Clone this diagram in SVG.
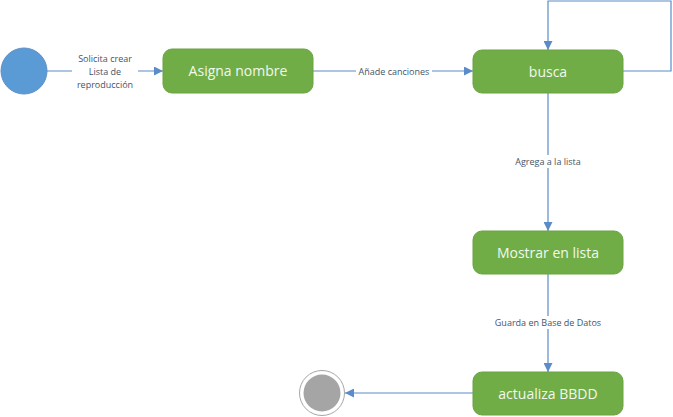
<svg xmlns="http://www.w3.org/2000/svg" width="673" height="417" viewBox="0 0 673 417">
<style>
.node{fill:#70AD47;stroke:#6AA343;stroke-width:1}
.nt{font-family:"Open Sans","Noto Sans",sans-serif;font-size:14px;fill:#F2F8EE;text-anchor:middle}
.edge{fill:none;stroke:#5B8BC8;stroke-width:1.2}
.lbl{font-family:"Open Sans","Noto Sans",sans-serif;font-size:9px;fill:#44546A;text-anchor:middle}
.bg{fill:#FFFFFF}
</style>
<defs>
<marker id="arr" viewBox="0 0 10 10" refX="10" refY="5" markerWidth="9" markerHeight="9" markerUnits="userSpaceOnUse" orient="auto">
<path d="M0,0 L10,5 L0,10 z" fill="#5B8BC8"/>
</marker>
</defs>
<rect width="673" height="417" fill="#FFFFFF"/>
<g id="connectors">
<path class="edge" d="M47,71 H163" marker-end="url(#arr)"/>
<rect class="bg" x="72" y="51" width="66" height="40"/>
<text class="lbl" x="105" y="62">Solicita crear</text>
<text class="lbl" x="105" y="75">Lista de</text>
<text class="lbl" x="105" y="88">reproducción</text>
<path class="edge" d="M313,71 H473" marker-end="url(#arr)"/>
<rect class="bg" x="356" y="65" width="76" height="12"/>
<text class="lbl" x="394" y="74.5">Añade canciones</text>
<path class="edge" d="M623,71 H671 V1 H548 V50" marker-end="url(#arr)"/>
<path class="edge" d="M548,93 V231" marker-end="url(#arr)"/>
<rect class="bg" x="510" y="155" width="76" height="13"/>
<text class="lbl" x="548" y="165">Agrega a la lista</text>
<path class="edge" d="M548,273 V372" marker-end="url(#arr)"/>
<rect class="bg" x="492" y="316" width="112" height="13"/>
<text class="lbl" x="548" y="326">Guarda en Base de Datos</text>
<path class="edge" d="M473,393 H345" marker-end="url(#arr)"/>
</g>
<g id="start">
<circle cx="24" cy="71" r="23" fill="#5B9BD5" stroke="#5B8FC8" stroke-width="1"/>
</g>
<g id="asigna">
<rect class="node" x="163" y="49" width="150" height="44" rx="9"/>
<text class="nt" x="238" y="76">Asigna nombre</text>
</g>
<g id="busca">
<rect class="node" x="473" y="50" width="150" height="43" rx="9"/>
<text class="nt" x="548" y="76.5">busca</text>
</g>
<g id="mostrar">
<rect class="node" x="473" y="231" width="150" height="43" rx="9"/>
<text class="nt" x="548" y="257.5">Mostrar en lista</text>
</g>
<g id="actualiza">
<rect class="node" x="473" y="372" width="150" height="43" rx="9"/>
<text class="nt" x="548" y="398.5">actualiza BBDD</text>
</g>
<g id="end">
<circle cx="322" cy="393" r="22.5" fill="#FFFFFF" stroke="#A6A6A6" stroke-width="1"/>
<circle cx="322" cy="393" r="18.5" fill="#A5A5A5"/>
</g>
</svg>
